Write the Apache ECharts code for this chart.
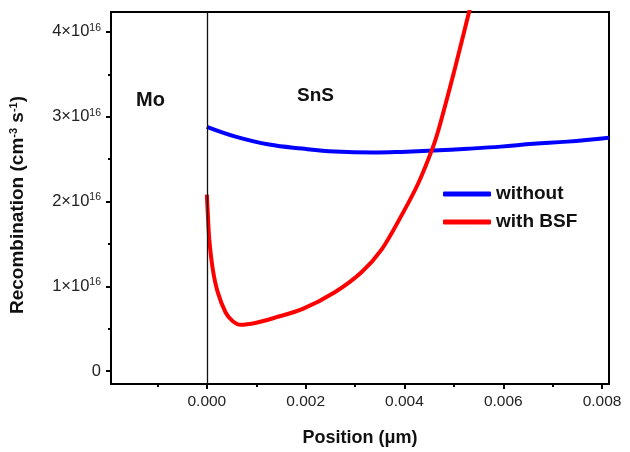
<!DOCTYPE html>
<html>
<head>
<meta charset="utf-8">
<script src="https://cdn.jsdelivr.net/npm/echarts@6/dist/echarts.min.js"></script>
<style>html,body{margin:0;padding:0;background:#fff}#c{width:630px;height:452px}</style>
</head>
<body>
<div id="c"></div>
<script>
// Data (position in µm, recombination in cm^-3 s^-1)
const positionBlue = [0, 0.00058, 0.00126, 0.00193, 0.00259, 0.00338, 0.00393, 0.00459, 0.00528, 0.00595, 0.00661, 0.00730, 0.00814];
const recombBlue   = [2.88e16, 2.765e16, 2.671e16, 2.624e16, 2.59e16, 2.578e16, 2.585e16, 2.60e16, 2.622e16, 2.647e16, 2.68e16, 2.706e16, 2.753e16];
const positionRed  = [0, 0.00002, 0.00005, 0.00012, 0.00022, 0.00038, 0.00052, 0.00068, 0.00100, 0.00138, 0.00193, 0.00259, 0.00313, 0.00354, 0.00393, 0.00428, 0.00458, 0.00471, 0.00500, 0.00531, 0.00550];
const recombRed    = [2.08e16, 1.85e16, 1.55e16, 1.2e16, 0.93e16, 0.69e16, 0.59e16, 0.545e16, 0.57e16, 0.63e16, 0.73e16, 0.93e16, 1.165e16, 1.435e16, 1.824e16, 2.215e16, 2.647e16, 2.888e16, 3.52e16, 4.24e16, 4.68e16];
const seriesNames = ['without', 'with BSF'];
const xMajorTicks = [0, 0.002, 0.004, 0.006, 0.008];
const xMinorTicks = [-0.001, 0.001, 0.003, 0.005, 0.007];
const yMajorTicks = [0, 1e16, 2e16, 3e16, 4e16];
const yMinorTicks = [0.5e16, 1.5e16, 2.5e16, 3.5e16];
const regionLabels = ['Mo', 'SnS'];

const FONT = '"Liberation Sans", Arial, sans-serif';
const X_MIN = -0.00194, X_MAX = 0.00814, Y_MIN = -0.153e16, Y_MAX = 4.235e16;

const zip = (a, b) => a.map((v, i) => [v, b[i]]);

const chart = echarts.init(document.getElementById('c'), null, {renderer: 'canvas'});
chart.setOption({
  animation: false,
  backgroundColor: '#fff',
  grid: {left: 108, right: 21, top: 12, bottom: 67, show: true, borderColor: '#000', borderWidth: 2, backgroundColor: 'transparent'},
  xAxis: [{
    type: 'value', min: X_MIN, max: X_MAX, position: 'bottom',
    name: 'Position (\u03bcm)', nameLocation: 'middle', nameGap: 45,
    nameTextStyle: {fontFamily: FONT, fontSize: 18, fontWeight: 'bold', color: '#111'},
    axisLine: {show: true, onZero: false, lineStyle: {color: '#000', width: 2}},
    axisTick: {show: true, length: 5, customValues: xMajorTicks, lineStyle: {color: '#000', width: 2}},
    axisLabel: {customValues: xMajorTicks, fontFamily: FONT, fontSize: 15.5, color: '#222', margin: 10,
      formatter: v => v.toFixed(3)},
    splitLine: {show: false}
  }, {
    type: 'value', min: X_MIN, max: X_MAX, position: 'bottom',
    axisLine: {show: false, onZero: false},
    axisTick: {show: true, length: 3, customValues: xMinorTicks, lineStyle: {color: '#000', width: 2}},
    axisLabel: {show: false}, splitLine: {show: false}
  }],
  yAxis: [{
    type: 'value', min: Y_MIN, max: Y_MAX, position: 'left',
    name: 'Recombination (cm{sup|-3} s{sup|-1})', nameLocation: 'middle', nameGap: 84, nameRotate: 90,
    nameTextStyle: {fontFamily: FONT, fontSize: 19, fontWeight: 'bold', color: '#111', padding: [0, 14, 0, 0],
      rich: {sup: {fontFamily: FONT, fontSize: 11, fontWeight: 'bold', color: '#111', verticalAlign: 'top', lineHeight: 12}}},
    axisLine: {show: true, onZero: false, lineStyle: {color: '#000', width: 2}},
    axisTick: {show: true, length: 5, customValues: yMajorTicks, lineStyle: {color: '#000', width: 2}},
    axisLabel: {customValues: yMajorTicks, margin: 10,
      formatter: v => v === 0 ? '{n|0}' : '{n|' + Math.round(v / 1e16) + '\u00d710}{s|16}',
      rich: {
        n: {fontFamily: FONT, fontSize: 16.5, color: '#222', lineHeight: 19},
        s: {fontFamily: FONT, fontSize: 10.5, color: '#222', verticalAlign: 'top', lineHeight: 10}
      }},
    splitLine: {show: false}
  }, {
    type: 'value', min: Y_MIN, max: Y_MAX, position: 'left',
    axisLine: {show: false, onZero: false},
    axisTick: {show: true, length: 3, customValues: yMinorTicks, lineStyle: {color: '#000', width: 2}},
    axisLabel: {show: false}, splitLine: {show: false}
  }],
  legend: {
    orient: 'vertical', left: 438, top: 178, itemWidth: 48, itemHeight: 5, itemGap: 6,
    icon: 'roundRect',
    textStyle: {fontFamily: FONT, fontSize: 19, fontWeight: 'bold', color: '#111', lineHeight: 22},
    data: seriesNames
  },
  graphic: [
    {type: 'text', left: 136, top: 90, style: {text: regionLabels[0], font: 'bold 20px ' + FONT, fill: '#111'}},
    {type: 'text', left: 297, top: 86, style: {text: regionLabels[1], font: 'bold 19px ' + FONT, fill: '#111'}}
  ],
  series: [{
    name: seriesNames[0], type: 'line', xAxisIndex: 0, yAxisIndex: 0,
    data: zip(positionBlue, recombBlue), showSymbol: false, smooth: 0.4, clip: true,
    lineStyle: {color: '#0000ff', width: 4}, itemStyle: {color: '#0000ff'},
    markLine: {silent: true, symbol: ['none', 'none'], label: {show: false},
      lineStyle: {color: '#111', width: 1.3, type: 'solid'}, data: [{xAxis: 0}]},
    z: 3
  }, {
    name: seriesNames[1], type: 'line', xAxisIndex: 0, yAxisIndex: 0,
    data: zip(positionRed, recombRed), showSymbol: false, smooth: 0.3, clip: true,
    lineStyle: {color: '#ff0000', width: 4}, itemStyle: {color: '#ff0000'},
    z: 4
  }]
});
</script>
</body>
</html>
